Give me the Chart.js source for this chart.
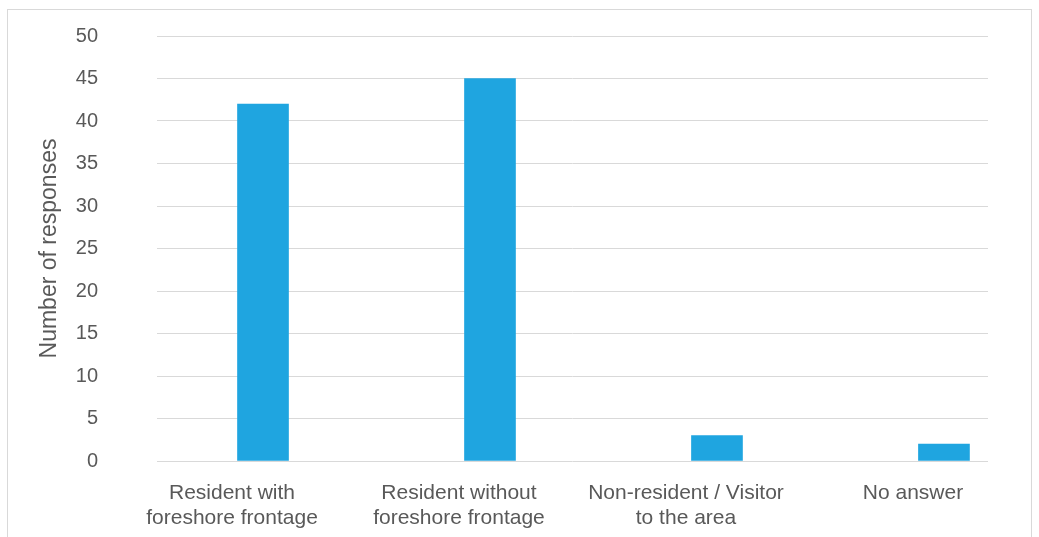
<!DOCTYPE html>
<html>
<head>
<meta charset="utf-8">
<script src="https://cdn.jsdelivr.net/npm/chart.js@4"></script>
<style>
  html, body { margin: 0; padding: 0; background: #fff; }
  #wrap { position: relative; width: 1039px; height: 537px; }
  #frame { position: absolute; left: 7px; top: 9px; width: 1025px; height: 540px; border: 1px solid #d9d9d9; box-sizing: border-box; pointer-events: none; }
</style>
</head>
<body>
<div id="wrap">
  <canvas id="myChart" width="1039" height="537"></canvas>
  <div id="frame"></div>
</div>
<script>
const categories = [
  ['Resident with', 'foreshore frontage'],
  ['Resident without', 'foreshore frontage'],
  ['Non-resident / Visitor', 'to the area'],
  ['No answer']
]
const responses = [42, 45, 3, 2]
const yTicks = [0, 5, 10, 15, 20, 25, 30, 35, 40, 45, 50]

const ctx = document.getElementById('myChart')
const font = "'Liberation Sans', Arial, sans-serif"
const grey = '#595959'

new Chart(ctx, {
  type: 'bar',
  data: {
    datasets: [{
      label: 'Number of responses',
      data: responses.map((v, i) => ({ x: i, y: v })),
      backgroundColor: '#1fa5e0',
      borderWidth: 0,
      barThickness: 51
    }]
  },
  options: {
    responsive: false,
    animation: false,
    layout: { padding: { left: 8, right: 51, top: 36, bottom: 0 } },
    plugins: {
      legend: { display: false },
      tooltip: { enabled: false }
    },
    scales: {
      x: {
        type: 'linear',
        offset: false,
        min: -0.467,
        max: 3.194,
        grid: { display: false, offset: false },
        border: { display: false },
        afterBuildTicks: scale => { scale.ticks = categories.map((c, i) => ({ value: i })) },
        // labels sit left of the bars in the original, don't let them shrink the plot
        afterFit: scale => { scale.paddingLeft = 0; scale.paddingRight = 0; scale.height = 76 },
        ticks: {
          autoSkip: false,
          maxRotation: 0,
          padding: 12,
          labelOffset: -31,
          color: grey,
          font: { family: font, size: 21, lineHeight: 1.19 },
          callback: v => categories[v]
        }
      },
      y: {
        min: 0,
        max: 50,
        afterBuildTicks: scale => { scale.ticks = yTicks.map(v => ({ value: v })) },
        afterFit: scale => { scale.paddingTop = 0; scale.paddingBottom = 0; scale.width = 149 },
        grid: { color: '#d9d9d9', lineWidth: 1, drawTicks: false },
        border: { display: false },
        ticks: {
          padding: 59,
          color: grey,
          font: { family: font, size: 20 }
        },
        title: {
          display: true,
          text: 'Number of responses',
          color: grey,
          font: { family: font, size: 23 },
          padding: { top: 28, bottom: 13 }
        }
      }
    }
  }
})
</script>
</body>
</html>
